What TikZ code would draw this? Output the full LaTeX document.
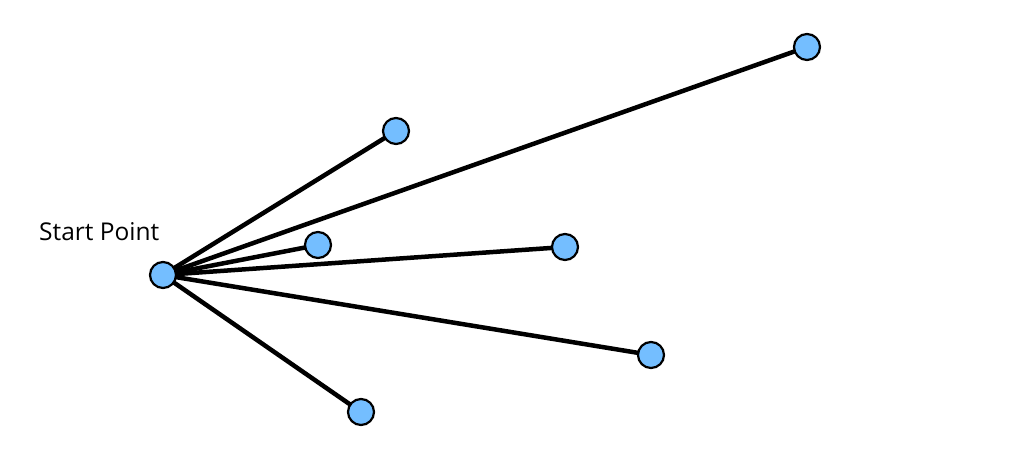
\documentclass[tikz,border=0pt]{standalone}
\usepackage{fontspec}
\setmainfont{Open Sans}
\usetikzlibrary{backgrounds}
\definecolor{dotblue}{RGB}{116,190,255}
\begin{document}
\begin{tikzpicture}[x=1pt,y=1pt,
  pt/.style={circle,draw=black,fill=dotblue,line width=2.2pt,minimum size=26pt,inner sep=0pt},
  edge/.style={line width=4.5pt,black}]
\useasboundingbox (0,0) rectangle (1020,470);
\node[pt] (s) at (163,195) {};
\node[pt] (a) at (396,339) {};
\node[pt] (b) at (807,423) {};
\node[pt] (c) at (318,225) {};
\node[pt] (d) at (565,223) {};
\node[pt] (e) at (651,115) {};
\node[pt] (f) at (361,58) {};
\begin{scope}[on background layer]
\foreach \t in {a,b,c,d,e,f} {\draw[edge] (s.center) -- (\t.center);}
\end{scope}
\node[anchor=base west,inner sep=0pt,font=\fontsize{24.5}{28}\selectfont] (lbl) at (39,229) {Start Point};
\end{tikzpicture}
\end{document}
